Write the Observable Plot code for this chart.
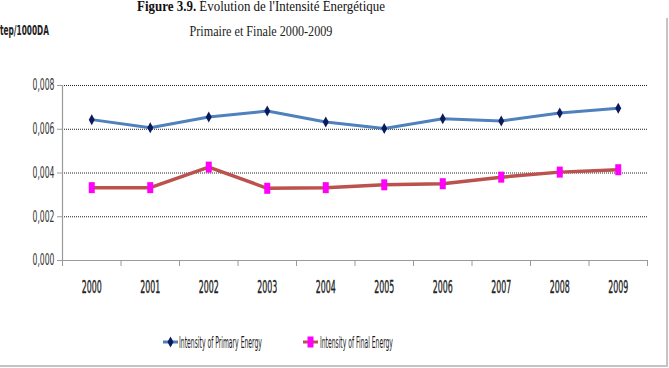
<!DOCTYPE html>
<html><head><meta charset="utf-8">
<script src="https://cdn.jsdelivr.net/npm/d3@7"></script>
<script src="https://cdn.jsdelivr.net/npm/@observablehq/plot@0.6"></script>
<style>
html,body{margin:0;padding:0;background:#fff;}
#wrap{position:relative;width:669px;height:368px;overflow:hidden;background:#fff;}
#wrap > svg{position:absolute;left:0;top:0;}
#overlay{pointer-events:none;}
</style>
</head><body>
<div id="wrap"></div>
<script>
// ---- data ----
const years = [2000, 2001, 2002, 2003, 2004, 2005, 2006, 2007, 2008, 2009];
const primary = [0.00644, 0.00607, 0.00656, 0.00683, 0.00633, 0.00603, 0.00648, 0.00638, 0.00674, 0.00696];
const finalE = [0.00333, 0.00333, 0.00427, 0.00330, 0.00333, 0.00346, 0.00351, 0.00381, 0.00404, 0.00415];
const yTicks = [0, 0.002, 0.004, 0.006, 0.008];
const seriesNames = ["Intensity of Primary Energy", "Intensity of Final Energy"];
const titleBold = "Figure 3.9.";
const titleRest = " Évolution de l'Intensité Énergétique";
const subtitle = "Primaire et Finale 2000-2009";
const unitLabel = "tep/1000DA";

// ---- styles ----
const colP = "#4f81bd", colPMark = "#0b1a5e";
const colF = "#bb524e", colFMark = "#ff00ff";
const narrow = "'Liberation Sans Narrow','DejaVu Sans Condensed','Liberation Sans',sans-serif";

const rowsP = years.map((year, i) => ({year, value: primary[i]}));
const rowsF = years.map((year, i) => ({year, value: finalE[i]}));
const bounds = d3.range(years.length + 1).map(i => years[0] - 0.5 + i);

const tallDiamond = {draw(ctx) {ctx.moveTo(0, -5.5); ctx.lineTo(3, 0); ctx.lineTo(0, 5.5); ctx.lineTo(-3, 0); ctx.closePath();}};
const tallRect = {draw(ctx) {ctx.rect(-3, -5.5, 6, 11);}};

const chart = Plot.plot({
  width: 669, height: 368,
  marginTop: 85, marginBottom: 108, marginLeft: 62, marginRight: 22,
  style: {background: "transparent", fontFamily: narrow, overflow: "visible"},
  x: {type: "linear", domain: [bounds[0], bounds[bounds.length - 1]], label: null},
  y: {domain: [0, 0.008], label: null},
  marks: [
    Plot.gridY(yTicks.slice(1), {stroke: "#222", strokeOpacity: 1, strokeDasharray: "1,1"}),
    Plot.ruleY([0], {stroke: "#9a9a9a", strokeWidth: 1.2}),
    Plot.ruleX([bounds[0]], {y1: 0, y2: 0.008, stroke: "#9a9a9a", strokeWidth: 1.2}),
    Plot.axisY(yTicks, {tickSize: 5, tickPadding: 3, stroke: "#9a9a9a", label: null,
      tickFormat: d => d.toFixed(3).replace(".", ",")}),
    Plot.axisX(bounds, {tickSize: 6, stroke: "#9a9a9a", tickFormat: () => "", label: null}),
    Plot.axisX(years, {tickSize: 0, tickPadding: 20, tickFormat: d => String(d), label: null}),
    Plot.line(rowsP, {x: "year", y: "value", stroke: colP, strokeWidth: 3}),
    Plot.line(rowsF, {x: "year", y: "value", stroke: colF, strokeWidth: 3.5}),
    Plot.dot(rowsP, {x: "year", y: "value", symbol: tallDiamond, fill: colPMark, stroke: "none", r: 5}),
    Plot.dot(rowsF, {x: "year", y: "value", symbol: tallRect, fill: colFMark, stroke: "none", r: 5})
  ]
});

d3.select(chart).selectAll("text").each(function () {
  const t = this.textContent;
  const s = d3.select(this);
  if (/^\d{4}$/.test(t)) {
    s.attr("font-size", 18).attr("font-weight", "normal").attr("fill", "#222").attr("font-family", narrow)
     .attr("stroke", "#222").attr("stroke-width", 0.35)
     .attr("textLength", 20).attr("lengthAdjust", "spacingAndGlyphs");
  } else if (/^0,\d{3}$/.test(t)) {
    s.attr("font-size", 15).attr("fill", "#333").attr("font-family", narrow)
     .attr("textLength", 22).attr("lengthAdjust", "spacingAndGlyphs");
  }
});

const wrap = document.getElementById("wrap");
wrap.appendChild(chart);

// ---- overlay: titles, unit, legend, frame ----
const ns = "http://www.w3.org/2000/svg";
const ov = d3.select(wrap).append("svg").attr("id", "overlay")
  .attr("width", 669).attr("height", 368).attr("xmlns", ns);

// fit a text horizontally to a target width by scaling it
function fit(sel, x, y, width) {
  const w = sel.node().getComputedTextLength() || width;
  sel.attr("x", 0).attr("y", 0).attr("transform", `translate(${x},${y}) scale(${width / w},1)`);
  return sel;
}

// frame
ov.append("line").attr("x1", 667).attr("x2", 667).attr("y1", 18).attr("y2", 367).attr("stroke", "#c4c4c4").attr("stroke-width", 2);
ov.append("line").attr("x1", 0).attr("x2", 668).attr("y1", 366).attr("y2", 366).attr("stroke", "#c4c4c4").attr("stroke-width", 2);

// title
const tt = ov.append("text").attr("text-anchor", "middle")
  .attr("font-family", "'Liberation Serif','Times New Roman',serif").attr("font-size", 14).attr("fill", "#111");
tt.append("tspan").attr("font-weight", "bold").text(titleBold);
tt.append("tspan").text(titleRest);
fit(tt, 261, 11, 248);

fit(ov.append("text").attr("text-anchor", "middle")
  .attr("font-family", "'Liberation Serif','Times New Roman',serif").attr("font-size", 14).attr("fill", "#222")
  .text(subtitle), 261, 36, 143);

fit(ov.append("text")
  .attr("font-family", narrow).attr("font-size", 14).attr("font-weight", "bold").attr("fill", "#222")
  .text(unitLabel), 0, 35, 49);

// legend
const legendItems = [
  {name: seriesNames[0], x0: 163, x1: 178, tx: 179, tw: 83, line: colP, mark: colPMark, sym: tallDiamond},
  {name: seriesNames[1], x0: 303, x1: 318, tx: 320, tw: 73, line: colF, mark: colFMark, sym: tallRect}
];
legendItems.forEach(it => {
  ov.append("line").attr("x1", it.x0).attr("x2", it.x1).attr("y1", 342).attr("y2", 342)
    .attr("stroke", it.line).attr("stroke-width", 3);
  ov.append("path").attr("transform", `translate(${(it.x0 + it.x1) / 2},342)`)
    .attr("d", d3.symbol(it.sym, 30)()).attr("fill", it.mark);
  fit(ov.append("text")
    .attr("font-family", narrow).attr("font-size", 15).attr("fill", "#1a1a1a")
    .text(it.name), it.tx, 348, it.tw);
});
</script>
</body></html>
